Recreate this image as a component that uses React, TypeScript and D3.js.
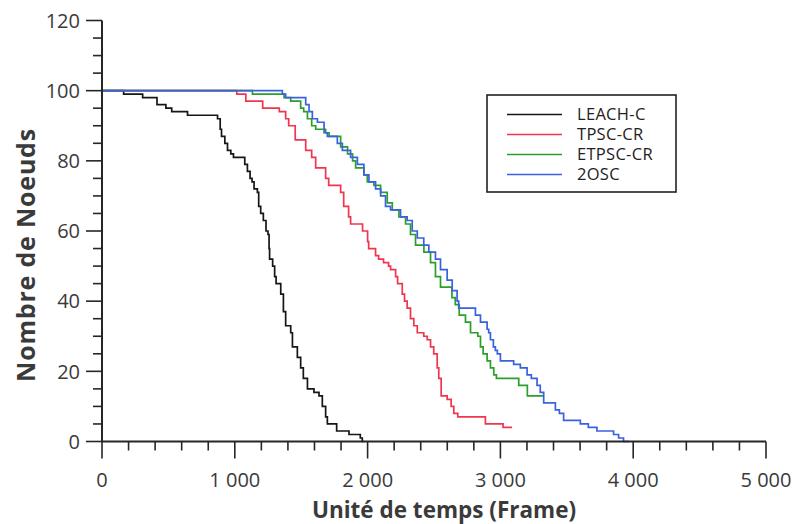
import React from "react";
import * as d3 from "d3";

type Pt = [number, number];

const seriesNames = ["LEACH-C", "TPSC-CR", "ETPSC-CR", "2OSC"];
const seriesColors = ["#161616", "#f0364f", "#2a9f2a", "#3a62e0"];

const leachC: Pt[] = [
  [0, 100], [163, 99], [306, 98], [414, 96], [481, 95], [525, 94], [644, 93], [870, 92], [890, 89], [900, 87],
  [925, 85], [945, 83], [970, 82], [990, 81], [1075, 79], [1095, 77], [1115, 75], [1130, 74], [1145, 72], [1170, 71],
  [1180, 67], [1195, 65], [1215, 63], [1235, 60], [1250, 59], [1258, 55], [1262, 52], [1285, 50], [1300, 47], [1311, 45],
  [1346, 42], [1366, 37], [1383, 33], [1421, 31], [1434, 27], [1471, 24], [1496, 21], [1516, 18], [1547, 15], [1596, 14],
  [1634, 13], [1659, 10], [1684, 7], [1697, 5], [1767, 3], [1860, 2], [1945, 1], [1960, 0], [1975, 0],
];

const tpscCR: Pt[] = [
  [0, 100], [1015, 99], [1083, 97], [1210, 95], [1335, 94], [1383, 92], [1406, 90], [1455, 86], [1534, 83], [1579, 81],
  [1609, 78], [1684, 75], [1707, 73], [1797, 71], [1820, 67], [1857, 64], [1872, 62], [1962, 60], [2000, 57], [2008, 55],
  [2060, 53], [2083, 52], [2120, 51], [2158, 50], [2173, 49], [2211, 47], [2226, 45], [2261, 42], [2278, 40], [2298, 38],
  [2323, 35], [2348, 33], [2374, 31], [2423, 30], [2449, 29], [2474, 27], [2498, 25], [2524, 21], [2536, 18], [2554, 13],
  [2599, 12], [2629, 10], [2649, 8], [2679, 7], [2887, 5], [3020, 4], [3088, 4],
];

const etpscCR: Pt[] = [
  [0, 100], [1133, 99], [1371, 98], [1421, 97], [1496, 95], [1519, 94], [1547, 92], [1579, 90], [1609, 89], [1684, 88],
  [1710, 87], [1797, 84], [1849, 82], [1887, 80], [1910, 78], [1972, 76], [1998, 74], [2048, 73], [2098, 71], [2148, 68],
  [2186, 66], [2236, 64], [2286, 62], [2323, 59], [2361, 56], [2424, 54], [2474, 51], [2511, 47], [2549, 44], [2635, 41],
  [2660, 39], [2690, 36], [2737, 34], [2775, 31], [2830, 30], [2850, 27], [2870, 25], [2900, 23], [2925, 21], [2950, 19],
  [2970, 18], [3138, 16], [3203, 13], [3326, 13],
];

const osc2: Pt[] = [
  [0, 100], [1358, 99], [1383, 98], [1534, 96], [1559, 94], [1584, 92], [1622, 91], [1672, 88], [1697, 87], [1772, 85],
  [1810, 83], [1872, 81], [1923, 79], [1972, 76], [2010, 74], [2060, 72], [2098, 70], [2135, 67], [2173, 66], [2248, 64],
  [2298, 63], [2336, 60], [2374, 58], [2423, 56], [2461, 54], [2511, 52], [2549, 49], [2599, 46], [2637, 43], [2674, 40],
  [2686, 38], [2812, 36], [2850, 34], [2900, 32], [2912, 31], [2925, 29], [2947, 27], [2962, 26], [2977, 25], [3000, 23],
  [3100, 22], [3150, 21], [3201, 19], [3233, 18], [3276, 16], [3300, 14], [3326, 11], [3414, 9], [3444, 8], [3476, 6],
  [3602, 5], [3662, 4], [3727, 3], [3852, 2], [3890, 1], [3927, 0], [3970, 0],
];

const allSeries = [leachC, tpscCR, etpscCR, osc2];

const xMajorTicks = [0, 1000, 2000, 3000, 4000, 5000];
const xTickLabels = ["0", "1 000", "2 000", "3 000", "4 000", "5 000"];
const yMajorTicks = [0, 20, 40, 60, 80, 100, 120];
const xTitle = "Unité de temps (Frame)";
const yTitle = "Nombre de Noeuds";

export default function App() {
  const W = 799, H = 524;
  const x = d3.scaleLinear().domain([0, 5000]).range([102, 766]);
  const y = d3.scaleLinear().domain([0, 120]).range([441.5, 20.5]);
  const line = d3
    .line<Pt>()
    .x((d) => x(d[0]))
    .y((d) => y(d[1]))
    .curve(d3.curveStepAfter);

  const xMinor = d3.range(0, 5001, 200).filter((v) => v % 1000 !== 0);
  const yMinor = d3.range(0, 121, 5).filter((v) => v % 20 !== 0);
  const axisColor = "#262626";
  const textColor = "#3a3a3a";
  const font = "'Open Sans', 'DejaVu Sans', sans-serif";

  const lg = { x: 487, y: 95, w: 189, h: 97 };
  const rowY = [114.5, 134.5, 154.5, 174.5];

  return (
    <svg
      width={W}
      height={H}
      style={{ position: "absolute", left: 0, top: 0, background: "#fff" }}
      fontFamily={font}
    >
      <rect x={0} y={0} width={W} height={H} fill="#fff" />
      {allSeries.map((s, i) => (
        <path key={i} d={line(s) || ""} fill="none" stroke={seriesColors[i]} strokeWidth={1.7} />
      ))}
      <line x1={x(0)} x2={x(0)} y1={y(120)} y2={y(0)} stroke={axisColor} strokeWidth={2} />
      {yMajorTicks.map((v) => (
        <line key={"ym" + v} x1={x(0) - 16} x2={x(0)} y1={y(v)} y2={y(v)} stroke={axisColor} strokeWidth={1.6} />
      ))}
      {yMinor.map((v) => (
        <line key={"yn" + v} x1={x(0) - 9} x2={x(0)} y1={y(v)} y2={y(v)} stroke={axisColor} strokeWidth={1.6} />
      ))}
      {yMajorTicks.map((v) => (
        <text key={"yl" + v} x={80} y={y(v)} dy="0.36em" textAnchor="end" fontSize={20} fill={textColor}>
          {String(v)}
        </text>
      ))}
      <line x1={x(0)} x2={x(5000)} y1={y(0)} y2={y(0)} stroke={axisColor} strokeWidth={2} />
      {xMajorTicks.map((v) => (
        <line key={"xm" + v} x1={x(v)} x2={x(v)} y1={y(0)} y2={y(0) + 17} stroke={axisColor} strokeWidth={1.6} />
      ))}
      {xMinor.map((v) => (
        <line key={"xn" + v} x1={x(v)} x2={x(v)} y1={y(0)} y2={y(0) + 9} stroke={axisColor} strokeWidth={1.6} />
      ))}
      {xMajorTicks.map((v, i) => (
        <text key={"xl" + v} x={x(v)} y={487} textAnchor="middle" fontSize={20} fill={textColor}>
          {xTickLabels[i]}
        </text>
      ))}
      <text x={444} y={518} textAnchor="middle" fontSize={22.5} fontWeight={700} fill={textColor}>
        {xTitle}
      </text>
      <text
        transform={`translate(35, 255) rotate(-90)`}
        textAnchor="middle"
        fontSize={25}
        fontWeight={700}
        letterSpacing={0.8}
        fill={textColor}
      >
        {yTitle}
      </text>
      <rect x={lg.x} y={lg.y} width={lg.w} height={lg.h} fill="#fff" stroke="#222" strokeWidth={1.6} />
      {seriesNames.map((n, i) => (
        <g key={n}>
          <line x1={507} x2={562} y1={rowY[i]} y2={rowY[i]} stroke={seriesColors[i]} strokeWidth={1.7} />
          <text x={577} y={rowY[i]} dy="0.36em" fontSize={16.5} letterSpacing={0.3} fill="#222">
            {n}
          </text>
        </g>
      ))}
    </svg>
  );
}
